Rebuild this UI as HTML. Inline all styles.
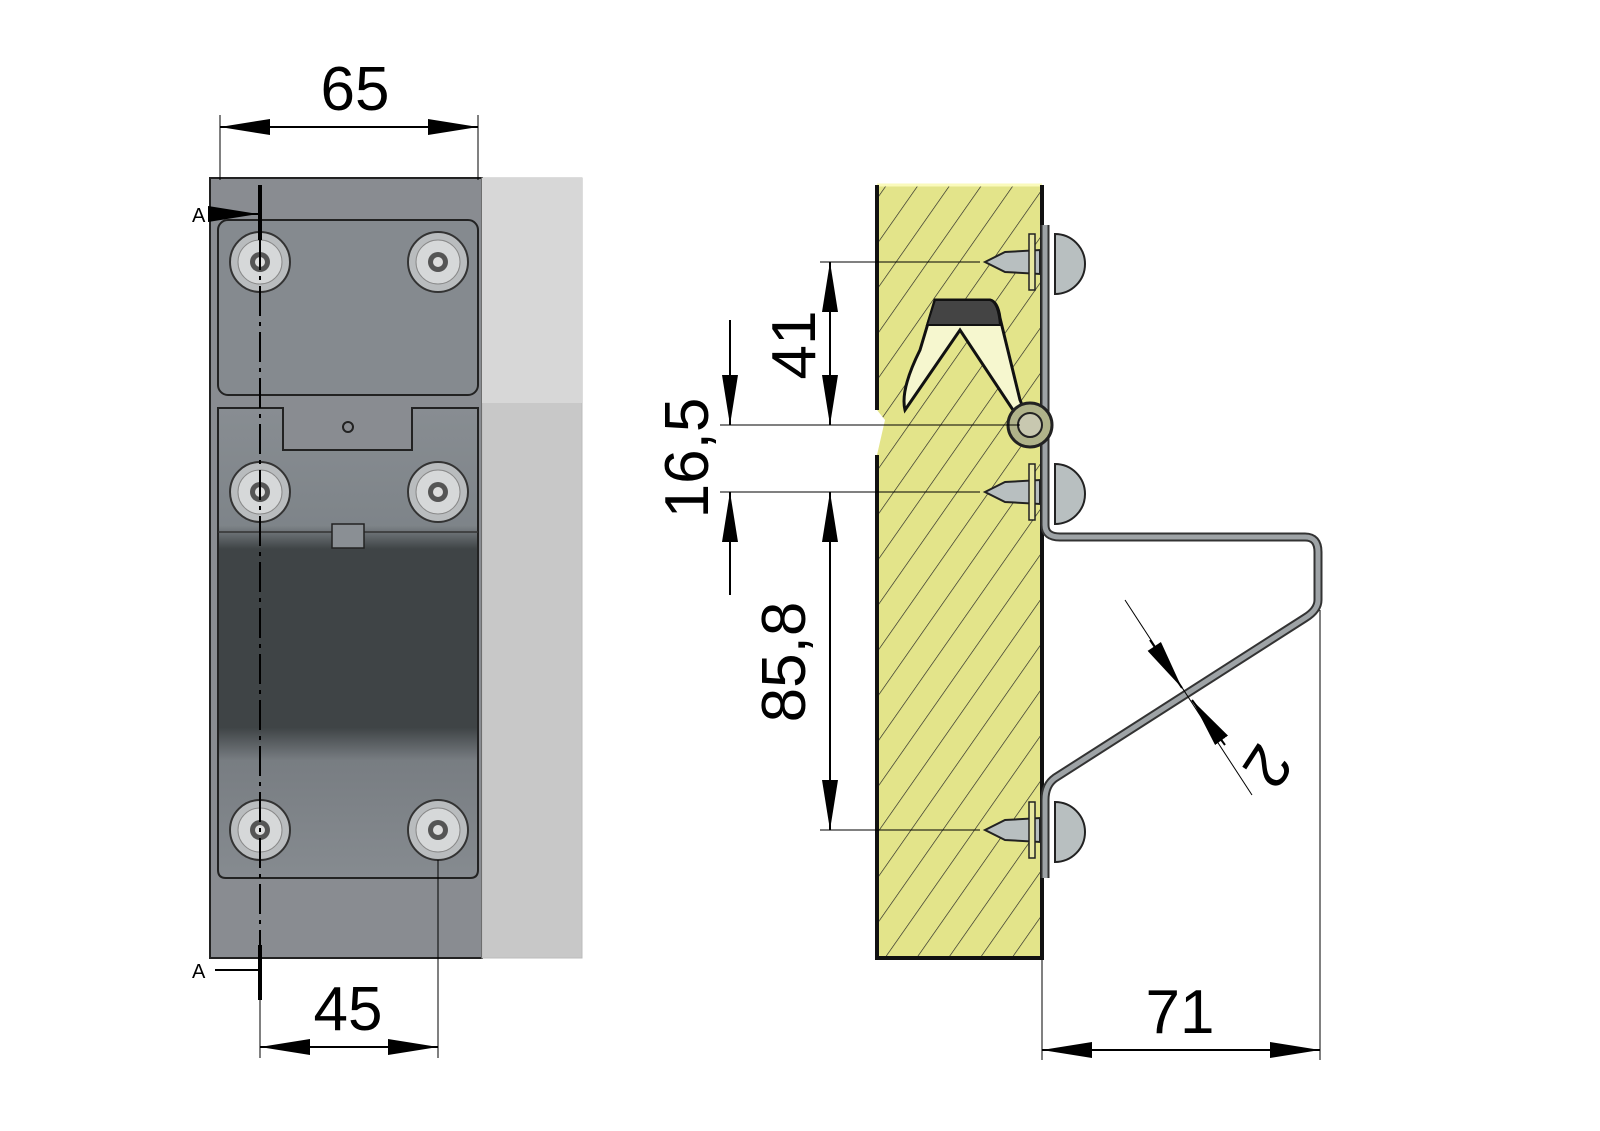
<!DOCTYPE html>
<html><head><style>body{margin:0;background:#fff}svg{display:block}text{font-family:"Liberation Sans",sans-serif}</style></head><body>
<svg width="1600" height="1131" viewBox="0 0 1600 1131" xmlns="http://www.w3.org/2000/svg">
<defs>
<pattern id="h" width="26" height="26" patternUnits="userSpaceOnUse" patternTransform="rotate(35)">
<rect width="26" height="26" fill="#e3e48a"/><line x1="0" y1="0" x2="0" y2="26" stroke="#222" stroke-width="1.3"/></pattern>
<marker id="a" markerWidth="50" markerHeight="16" refX="50" refY="8" orient="auto-start-reverse" markerUnits="userSpaceOnUse"><path d="M0,0 L50,8 L0,16z" fill="#000"/></marker>
<linearGradient id="pl" x1="0" y1="0" x2="0" y2="1"><stop offset="0" stop-color="#888d92"/><stop offset="0.25" stop-color="#7e8489"/><stop offset="0.3" stop-color="#3f4446"/><stop offset="0.68" stop-color="#3f4446"/><stop offset="0.75" stop-color="#787d82"/><stop offset="1" stop-color="#868b90"/></linearGradient>
<g id="s"><circle r="30" fill="#b9bcbe" stroke="#333" stroke-width="2"/><circle r="22" fill="#d6d8d9" stroke="#888" stroke-width="1"/><circle r="10" fill="#555"/><circle r="5" fill="#ddd"/></g>
<g id="sc"><path d="M-60,0 L-40,-10 L-5,-12 L-5,12 L-40,10z" fill="#b8bfc0" stroke="#222" stroke-width="2"/><rect x="-16" y="-28" width="6" height="56" fill="#e8e8a0" stroke="#222" stroke-width="1.5"/><path d="M10,-28 a30,30 0 0 1 0,60z" fill="#b8bfc0" stroke="#222" stroke-width="2"/></g>
</defs>
<rect x="210" y="178" width="272" height="780" fill="#898c91" stroke="#222" stroke-width="2"/>
<rect x="482" y="178" width="100" height="780" fill="#c8c8c8" stroke="#bbb"/>
<rect x="482" y="178" width="100" height="225" fill="#d7d7d7"/>
<rect x="218" y="220" width="260" height="175" rx="10" fill="#858a8f" stroke="#222" stroke-width="2"/>
<path d="M218,408 L283,408 L283,450 L412,450 L412,408 L478,408 L478,870 Q478,878 470,878 L226,878 Q218,878 218,870z" fill="url(#pl)" stroke="#222" stroke-width="2"/>
<line x1="218" y1="532" x2="478" y2="532" stroke="#333" stroke-width="1.5"/>
<rect x="332" y="524" width="32" height="24" fill="#8a8f94" stroke="#222" stroke-width="1.5"/>
<circle cx="348" cy="427" r="5" fill="none" stroke="#222" stroke-width="2"/>
<use href="#s" x="260" y="262"/><use href="#s" x="438" y="262"/><use href="#s" x="260" y="492"/><use href="#s" x="438" y="492"/><use href="#s" x="260" y="830"/><use href="#s" x="438" y="830"/>
<line x1="260" y1="185" x2="260" y2="240" stroke="#000" stroke-width="4"/>
<line x1="260" y1="240" x2="260" y2="945" stroke="#000" stroke-width="2" stroke-dasharray="30,6,4,6"/>
<line x1="260" y1="945" x2="260" y2="1000" stroke="#000" stroke-width="4"/>
<line x1="215" y1="214" x2="258" y2="214" stroke="#000" stroke-width="2" marker-end="url(#a)"/>
<line x1="215" y1="970" x2="258" y2="970" stroke="#000" stroke-width="2"/>
<text x="192" y="222" font-size="20">A</text><text x="192" y="978" font-size="20">A</text>
<line x1="220" y1="115" x2="220" y2="180" stroke="#000"/><line x1="478" y1="115" x2="478" y2="180" stroke="#000"/>
<line x1="220" y1="127" x2="478" y2="127" stroke="#000" stroke-width="2" marker-start="url(#a)" marker-end="url(#a)"/>
<text x="355" y="110" font-size="62" text-anchor="middle">65</text>
<line x1="438" y1="860" x2="438" y2="1058" stroke="#000"/><line x1="260" y1="1000" x2="260" y2="1058" stroke="#000"/>
<line x1="260" y1="1047" x2="438" y2="1047" stroke="#000" stroke-width="2" marker-start="url(#a)" marker-end="url(#a)"/>
<text x="348" y="1030" font-size="62" text-anchor="middle">45</text>
<path d="M877,185 L1042,185 L1042,958 L877,958 L877,455 L885,420 L877,410z" fill="url(#h)" stroke="none"/>
<line x1="877" y1="185" x2="1042" y2="185" stroke="#fafabb" stroke-width="3"/>
<path d="M877,185 L877,410 M877,455 L877,958 L1042,958 L1042,185" fill="none" stroke="#111" stroke-width="4"/>
<path d="M935,300 L990,300 Q998,302 1000,318 L1020,400 Q1025,410 1015,413 L960,330 L905,410 Q900,390 920,350z" fill="#f6f7cf" stroke="#111" stroke-width="3"/>
<path d="M935,300 L990,300 Q998,302 1000,325 L927,325z" fill="#444" stroke="#111" stroke-width="2"/>
<path d="M1045,225 L1045,525 Q1045,537 1060,537 L1305,537 Q1318,537 1318,552 L1318,600 Q1318,610 1305,618 L1055,778 Q1045,785 1045,800 L1045,878" fill="none" stroke="#333" stroke-width="9"/>
<path d="M1045,225 L1045,525 Q1045,537 1060,537 L1305,537 Q1318,537 1318,552 L1318,600 Q1318,610 1305,618 L1055,778 Q1045,785 1045,800 L1045,878" fill="none" stroke="#9ea3a6" stroke-width="5"/>
<circle cx="1030" cy="425" r="22" fill="#b0b38a" stroke="#222" stroke-width="3"/><circle cx="1030" cy="425" r="12" fill="#c8c8b0" stroke="#222" stroke-width="2"/>
<use href="#sc" x="1045" y="262"/><use href="#sc" x="1045" y="492"/><use href="#sc" x="1045" y="830"/>
<g stroke="#000" stroke-width="1">
<line x1="820" y1="262" x2="980" y2="262"/><line x1="720" y1="425" x2="1020" y2="425"/><line x1="720" y1="492" x2="980" y2="492"/><line x1="820" y1="830" x2="980" y2="830"/>
<line x1="1042" y1="960" x2="1042" y2="1060"/><line x1="1320" y1="610" x2="1320" y2="1060"/>
<line x1="1125" y1="600" x2="1252" y2="795"/>
</g>
<line x1="830" y1="262" x2="830" y2="425" stroke="#000" stroke-width="2" marker-start="url(#a)" marker-end="url(#a)"/>
<line x1="730" y1="320" x2="730" y2="425" stroke="#000" stroke-width="2" marker-end="url(#a)"/>
<line x1="730" y1="492" x2="730" y2="595" stroke="#000" stroke-width="2" marker-start="url(#a)"/>
<line x1="830" y1="492" x2="830" y2="830" stroke="#000" stroke-width="2" marker-start="url(#a)" marker-end="url(#a)"/>
<line x1="1042" y1="1050" x2="1320" y2="1050" stroke="#000" stroke-width="2" marker-start="url(#a)" marker-end="url(#a)"/>
<line x1="1150" y1="640" x2="1182" y2="688" stroke="#000" stroke-width="2" marker-end="url(#a)"/>
<line x1="1225" y1="745" x2="1192" y2="700" stroke="#000" stroke-width="2" marker-end="url(#a)"/>
<text transform="translate(815,345) rotate(-90)" font-size="62" text-anchor="middle">41</text>
<text transform="translate(708,458) rotate(-90)" font-size="62" text-anchor="middle">16,5</text>
<text transform="translate(805,662) rotate(-90)" font-size="62" text-anchor="middle">85,8</text>
<text transform="translate(1250,755) rotate(123)" font-size="62" text-anchor="middle">2</text>
<text x="1180" y="1033" font-size="62" text-anchor="middle">71</text>
</svg>
</body></html>
